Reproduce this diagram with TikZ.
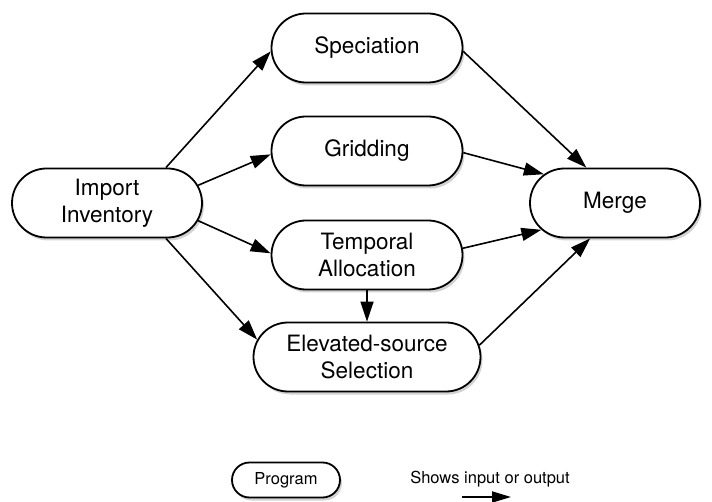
\documentclass[tikz,border=0pt]{standalone}
\usepackage{fontspec}
\setmainfont{TeX Gyre Heros}
\usetikzlibrary{shapes.misc,shadows,arrows.meta}

\begin{document}
\begin{tikzpicture}[x=1pt,y=-1pt,
    prog/.style={rounded rectangle, draw, line width=1.8pt, fill=white,
      minimum height=69pt, inner sep=0pt, align=center,
      font=\fontsize{22.5}{27}\selectfont,
      drop shadow={shadow xshift=2pt,shadow yshift=-3pt,opacity=0.35}},
    flow/.style={line width=1.6pt, -{Triangle[length=20pt,width=13pt]}}]
	\useasboundingbox (0,0) rectangle (712,502);

	% programs
	\node[prog, minimum width=190pt] (imp) at (107,203) {Import\\Inventory};
	\node[prog, minimum width=191pt] (spec) at (367,48) {Speciation};
	\node[prog, minimum width=191pt] (grid) at (367,151) {Gridding};
	\node[prog, minimum width=191pt] (temp) at (367,255) {Temporal\\Allocation};
	\node[prog, minimum width=227pt] (elev) at (367,357) {Elevated-source\\Selection};
	\node[prog, minimum width=170pt] (merge) at (615,203) {Merge};

	\draw[flow] (imp.31) -- (spec.182);
	\draw[flow] (imp.11) -- (grid.182);
	\draw[flow] (imp.-11) -- (temp.179);
	\draw[flow] (imp.-31) -- (elev.171);
	\draw[flow] (temp.south) -- (elev.north);

	\draw[flow] (spec.-2) -- (merge.129);
	\draw[flow] (grid.-1) -- (merge.158);
	\draw[flow] (temp.4) -- (merge.200);
	\draw[flow] (elev.6) -- (merge.235);

	% legend
	\node[prog, minimum width=108pt, minimum height=35pt,
	  font=\fontsize{16.5}{20}\selectfont] (key) at (286,480) {Program};
	\node[font=\fontsize{16.5}{20}\selectfont] (keytext) at (490,479) {Shows input or output};
	\coordinate (ka) at (462,497);
	\coordinate (kb) at (511,497);
	\draw[line width=1.8pt, -{Triangle[length=19pt,width=11pt]}] (ka) -- (kb);
\end{tikzpicture}
\end{document}
